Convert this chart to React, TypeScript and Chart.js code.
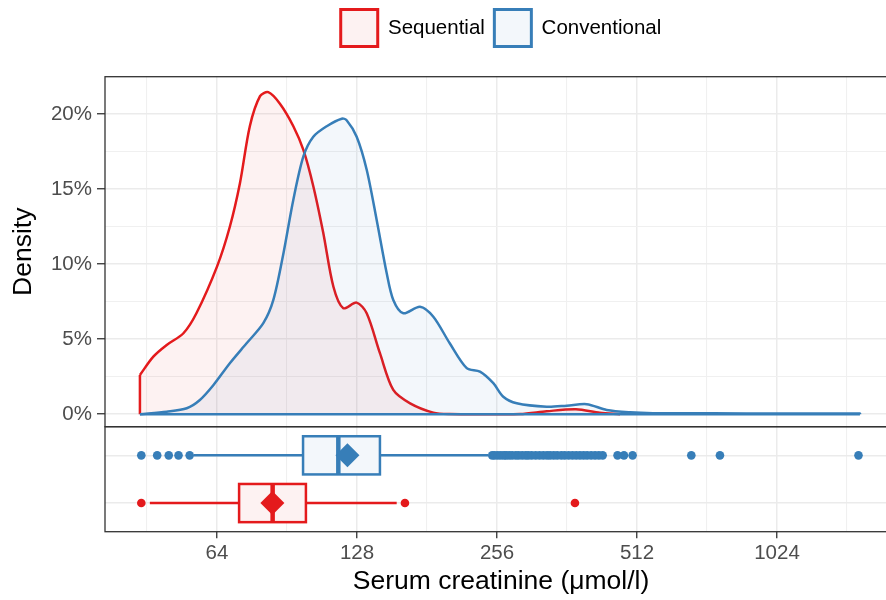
import React, { useEffect, useRef } from "react";
import { Chart, registerables } from "chart.js";

Chart.register(...registerables);

// ---------- data ----------
const GROUPS = ["Sequential", "Conventional"];
const GROUP_COLORS = ["#E41A1C", "#377EB8"];
const GROUP_FILLS = ["rgba(228,26,28,0.06)", "rgba(55,126,184,0.06)"];

// density curves (x in µmol/l, y in %)
const SEQ_X = [43.7, 46.7, 49.9, 54.2, 57.8, 64, 68.2, 71.7, 75.3, 79.2, 82.5, 87.4, 93.4, 98.2, 103.1, 108.3, 113.9, 119.6, 127.8, 134.3, 143.4, 153.2, 166.5, 186.8, 202.6, 286.9, 327.4, 378.5, 426, 470.8];
const SEQ_Y = [2.62, 3.84, 4.62, 5.4, 6.73, 9.84, 12.5, 15.4, 19.2, 21.2, 21.47, 20.7, 19.2, 17.6, 15.2, 12.1, 8.5, 7.07, 7.44, 6.73, 4.07, 1.62, 0.73, 0.11, 0.02, 0.02, 0.2, 0.33, 0.1, 0];

const CONV_X = [43.7, 49.9, 55.1, 58.8, 62.9, 68.2, 74.1, 80.5, 84.6, 88.9, 93.4, 98.2, 103.1, 110.2, 118.7, 121.6, 127.8, 134.3, 141.1, 148.3, 153.2, 161, 174.9, 186.8, 202.6, 220.4, 235.3, 251.4, 264.1, 282.3, 327.4, 361.5, 399.2, 440.7, 494.5, 554.2, 745.8, 1039, 1544, 1544];
const CONV_Y = [0, 0.17, 0.4, 0.95, 1.95, 3.4, 4.73, 6.07, 7.62, 10.7, 14.3, 17.2, 18.5, 19.2, 19.7, 19.6, 18.5, 16.3, 12.95, 9.4, 7.62, 6.73, 7.17, 6.5, 4.73, 3.07, 2.84, 2.07, 1.17, 0.73, 0.5, 0.57, 0.67, 0.29, 0.13, 0.07, 0.06, 0.05, 0.05, 0];

// box plot summaries: [Sequential, Conventional]
const BOX_ROW = [1, 2];
const WHISKER_LOW = [45.9, 57];
const Q1 = [71.4, 98.0];
const MEDIAN = [84.3, 116.7];
const Q3 = [99.4, 143.4];
const WHISKER_HIGH = [155.8, 244.9];
const MEAN = [84.2, 122.1];
const SEQ_OUTLIERS = [44.0, 162.3, 376.6];
const CONV_OUTLIERS = [44.0, 47.6, 50.4, 52.9, 55.9, 250, 253, 257, 261, 265, 268, 272, 276, 281, 285, 290, 295, 299, 304, 310, 316, 322, 328, 333, 339, 345, 352, 358, 365, 372, 379, 386, 393, 400, 408, 416, 424, 432, 465, 480, 501, 670, 772, 1533];

// axes
const X_MAJOR = [64, 128, 256, 512, 1024];
const X_MINOR = [45.25, 90.51, 181.02, 362.04, 724.08, 1448.15];
const Y_MAJOR = [0, 5, 10, 15, 20];
const Y_MINOR = [2.5, 7.5, 12.5, 17.5];
const X_MIN = 36.76;
const X_MAX = 1855;
const Y_MIN = -0.83;
const Y_MAX = 22.5;
const ROW_MIN = 0.4;
const ROW_MAX = 2.6;
const BOX_HALF = 0.4;

const FONT = "'Liberation Sans', Arial, Helvetica, sans-serif";
const TICK_COLOR = "#4D4D4D";
const GRID_MAJOR = "#EBEBEB";
const GRID_MINOR = "#F0F0F0";

const pts = (xs: number[], ys: number[]) => xs.map((x, i) => ({ x, y: ys[i] }));
const rowPts = (xs: number[], row: number) => xs.map((x) => ({ x, y: row }));

const boxPlugin = {
  id: "boxes",
  beforeDatasetsDraw(chart: any) {
    const { ctx, scales } = chart;
    const x = scales.x;
    const yb = scales.yb;
    ctx.save();
    GROUPS.forEach((_g, i) => {
      const yc = yb.getPixelForValue(BOX_ROW[i]);
      const yTop = yb.getPixelForValue(BOX_ROW[i] + BOX_HALF);
      const yBot = yb.getPixelForValue(BOX_ROW[i] - BOX_HALF);
      const xl = x.getPixelForValue(Q1[i]);
      const xr = x.getPixelForValue(Q3[i]);
      const xm = x.getPixelForValue(MEDIAN[i]);
      ctx.strokeStyle = GROUP_COLORS[i];
      ctx.lineWidth = 2.5;
      ctx.beginPath();
      ctx.moveTo(x.getPixelForValue(WHISKER_LOW[i]), yc);
      ctx.lineTo(xl, yc);
      ctx.moveTo(xr, yc);
      ctx.lineTo(x.getPixelForValue(WHISKER_HIGH[i]), yc);
      ctx.stroke();
      ctx.fillStyle = "#fff";
      ctx.fillRect(xl, yTop, xr - xl, yBot - yTop);
      ctx.fillStyle = GROUP_FILLS[i];
      ctx.fillRect(xl, yTop, xr - xl, yBot - yTop);
      ctx.strokeRect(xl, yTop, xr - xl, yBot - yTop);
      ctx.lineWidth = 4.5;
      ctx.beginPath();
      ctx.moveTo(xm, yTop);
      ctx.lineTo(xm, yBot);
      ctx.stroke();
    });
    ctx.restore();
  },
  afterDraw(chart: any) {
    const { ctx, chartArea, scales } = chart;
    ctx.save();
    ctx.strokeStyle = "#333333";
    ctx.lineWidth = 1.3;
    ["y", "yb"].forEach((id) => {
      const s = scales[id];
      ctx.strokeRect(chartArea.left, s.top, chartArea.right - chartArea.left, s.bottom - s.top);
    });
    ctx.restore();
  },
};

const isMajorX = (c: any) => c && c.tick && X_MAJOR.includes(c.tick.value);
const isMajorY = (c: any) => c && c.tick && Y_MAJOR.includes(c.tick.value);

export default function App() {
  const ref = useRef<HTMLCanvasElement>(null);
  useEffect(() => {
    document.body.style.overflow = "hidden";
    const chart = new Chart(ref.current as HTMLCanvasElement, {
      type: "line",
      data: {
        datasets: [
          {
            type: "scatter",
            label: "mean",
            data: MEAN.map((m, i) => ({ x: m, y: BOX_ROW[i] })),
            pointStyle: "rectRot",
            pointRadius: 12,
            pointBackgroundColor: GROUP_COLORS,
            pointBorderWidth: 0,
            xAxisID: "x",
            yAxisID: "yb",
            order: -2,
          } as any,
          {
            type: "scatter",
            label: "Sequential outliers",
            data: rowPts(SEQ_OUTLIERS, BOX_ROW[0]),
            pointRadius: 4.3,
            pointBackgroundColor: GROUP_COLORS[0],
            pointBorderWidth: 0,
            xAxisID: "x",
            yAxisID: "yb",
            order: -1,
          },
          {
            type: "scatter",
            label: "Conventional outliers",
            data: rowPts(CONV_OUTLIERS, BOX_ROW[1]),
            pointRadius: 4.3,
            pointBackgroundColor: GROUP_COLORS[1],
            pointBorderWidth: 0,
            xAxisID: "x",
            yAxisID: "yb",
            order: -1,
          },
          {
            label: "baseline",
            data: [
              { x: CONV_X[0], y: 0 },
              { x: CONV_X[CONV_X.length - 1], y: 0 },
            ],
            borderColor: GROUP_COLORS[1],
            borderWidth: 2.5,
            pointRadius: 0,
            fill: false,
            xAxisID: "x",
            yAxisID: "y",
            order: 0,
          },
          {
            label: "Conventional",
            data: pts(CONV_X, CONV_Y),
            borderColor: GROUP_COLORS[1],
            backgroundColor: GROUP_FILLS[1],
            borderWidth: 2.5,
            pointRadius: 0,
            tension: 0.3,
            fill: "origin",
            xAxisID: "x",
            yAxisID: "y",
            order: 1,
          },
          {
            label: "Sequential edge",
            data: [
              { x: SEQ_X[0], y: 0 },
              { x: SEQ_X[0], y: SEQ_Y[0] },
            ],
            borderColor: GROUP_COLORS[0],
            borderWidth: 2.5,
            pointRadius: 0,
            fill: false,
            xAxisID: "x",
            yAxisID: "y",
            order: 2,
          },
          {
            label: "Sequential",
            data: pts(SEQ_X, SEQ_Y),
            borderColor: GROUP_COLORS[0],
            backgroundColor: GROUP_FILLS[0],
            borderWidth: 2.5,
            pointRadius: 0,
            tension: 0.3,
            fill: "origin",
            xAxisID: "x",
            yAxisID: "y",
            order: 3,
          },
        ],
      },
      options: {
        animation: false,
        responsive: false,
        layout: { padding: { left: 0, right: 13, top: 0, bottom: 0 } },
        plugins: {
          tooltip: { enabled: false },
          legend: {
            display: true,
            position: "top",
            fullSize: false,
            align: "center",
            labels: {
              boxWidth: 37,
              boxHeight: 37,
              padding: 9.5,
              color: "#000",
              font: { family: FONT, size: 20.5 },
              generateLabels: () =>
                GROUPS.map((g, i) => ({
                  text: g,
                  fillStyle: GROUP_FILLS[i],
                  strokeStyle: GROUP_COLORS[i],
                  lineWidth: 3,
                  hidden: false,
                  fontColor: "#000",
                })),
            },
          },
          title: {
            display: true,
            text: "",
            position: "top",
            weight: 0,
            padding: { top: 20.2, bottom: 0 },
            font: { size: 1, lineHeight: 0 },
          } as any,
        },
        scales: {
          x: {
            type: "logarithmic",
            position: "bottom",
            min: X_MIN,
            max: X_MAX,
            afterBuildTicks: (s: any) => {
              s.ticks = [...X_MINOR, ...X_MAJOR].sort((a, b) => a - b).map((v) => ({ value: v }));
            },
            afterFit: (s: any) => {
              s.height = 68.3;
            },
            ticks: {
              autoSkip: false,
              maxRotation: 0,
              minRotation: 0,
              padding: 3.2,
              color: TICK_COLOR,
              font: { family: FONT, size: 20.5 },
              callback: (v: any) => (X_MAJOR.includes(Number(v)) ? String(v) : ""),
            },
            grid: {
              color: (c: any) => (isMajorX(c) ? GRID_MAJOR : GRID_MINOR),
              lineWidth: (c: any) => (isMajorX(c) ? 1.5 : 1.1),
              tickColor: (c: any) => (isMajorX(c) ? "#333333" : "rgba(0,0,0,0)"),
              tickLength: 6.5,
              tickWidth: 1.3,
            },
            border: { display: false },
            title: {
              display: true,
              text: "Serum creatinine (μmol/l)",
              color: "#000",
              font: { family: FONT, size: 26.5 },
              padding: { top: 0, bottom: 2.9 },
            },
          } as any,
          y: {
            type: "linear",
            position: "left",
            stack: "panels",
            stackWeight: 350,
            weight: 1,
            min: Y_MIN,
            max: Y_MAX,
            afterBuildTicks: (s: any) => {
              s.ticks = [...Y_MAJOR, ...Y_MINOR].sort((a, b) => a - b).map((v) => ({ value: v }));
            },
            afterFit: (s: any) => {
              s.width = 105;
            },
            ticks: {
              padding: 5,
              color: TICK_COLOR,
              font: { family: FONT, size: 20.5 },
              callback: (v: any) => (Y_MAJOR.includes(Number(v)) ? v + "%" : ""),
            },
            grid: {
              color: (c: any) => (isMajorY(c) ? GRID_MAJOR : GRID_MINOR),
              lineWidth: (c: any) => (isMajorY(c) ? 1.5 : 1.1),
              tickColor: (c: any) => (isMajorY(c) ? "#333333" : "rgba(0,0,0,0)"),
              tickLength: 8,
              tickWidth: 1.3,
            },
            border: { display: false },
            title: {
              display: true,
              text: "Density",
              color: "#000",
              font: { family: FONT, size: 26.5 },
              padding: { top: 8.0, bottom: 0 },
            },
          } as any,
          yb: {
            type: "linear",
            position: "left",
            stack: "panels",
            stackWeight: 105,
            weight: 0,
            min: ROW_MIN,
            max: ROW_MAX,
            afterBuildTicks: (s: any) => {
              s.ticks = BOX_ROW.map((v) => ({ value: v }));
            },
            afterFit: (s: any) => {
              s.width = 105;
            },
            ticks: { display: false },
            grid: { color: GRID_MAJOR, lineWidth: 1.5, drawTicks: false },
            border: { display: false },
          } as any,
        },
      },
      plugins: [boxPlugin],
    } as any);
    return () => chart.destroy();
  }, []);

  return (
    <div style={{ position: "fixed", left: 0, top: 0, width: 910, height: 600, background: "#fff" }}>
      <canvas ref={ref} width={910} height={600} style={{ display: "block" }} />
    </div>
  );
}
